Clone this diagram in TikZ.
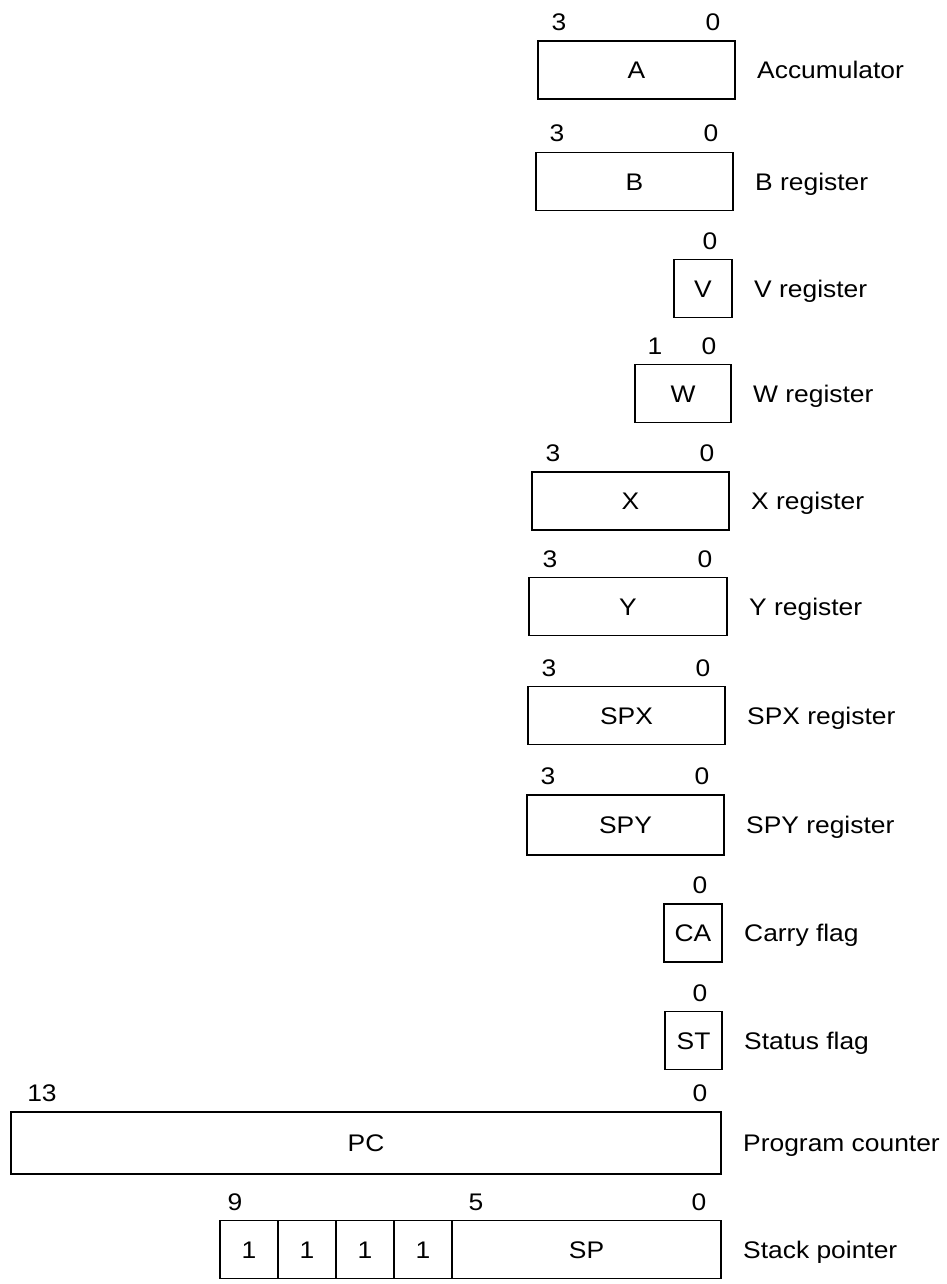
\documentclass[tikz,border=0pt]{standalone}
\usepackage{fontspec}
\setmainfont[FakeStretch=1.1]{Liberation Sans}
\usetikzlibrary{positioning,calc}

\begin{document}
\begin{tikzpicture}[x=1pt,y=-1pt,
    every node/.append style={font=\fontsize{24}{28}\selectfont,inner sep=0pt,text height=17pt,text depth=0pt},
    reg/.style={draw,line width=1.9pt,minimum height=58pt,outer sep=0pt},
    bitno/.style={},
    regname/.style={right=22pt of #1}]
  \useasboundingbox (0,0) rectangle (946,1284);

  \node[reg,minimum width=197pt] (A) at (636.5,70) {A};
  \node[bitno] (A-hi) at ([shift={(21,-19)}]A.north west) {3};
  \node[bitno] (A-lo) at ([shift={(-22,-19)}]A.north east) {0};
  \node[regname=A] (A-txt) {Accumulator};

  \node[reg,minimum width=197pt] (B) at (634.5,181.5) {B};
  \node[bitno] (B-hi) at ([shift={(21,-19)}]B.north west) {3};
  \node[bitno] (B-lo) at ([shift={(-22,-19)}]B.north east) {0};
  \node[regname=B] (B-txt) {B register};

  \node[reg,minimum width=58pt] (V) at (703,288.5) {V};
  \node[bitno] (V-lo) at ([shift={(-22,-19)}]V.north east) {0};
  \node[regname=V] (V-txt) {V register};

  \node[reg,minimum width=96pt] (W) at (683,393.5) {W};
  \node[bitno] (W-hi) at ([shift={(20,-19)}]W.north west) {1};
  \node[bitno] (W-lo) at ([shift={(-22,-19)}]W.north east) {0};
  \node[regname=W] (W-txt) {W register};

  \node[reg,minimum width=197pt] (X) at (630.5,501) {X};
  \node[bitno] (X-hi) at ([shift={(21,-19)}]X.north west) {3};
  \node[bitno] (X-lo) at ([shift={(-22,-19)}]X.north east) {0};
  \node[regname=X] (X-txt) {X register};

  \node[reg,minimum width=198pt] (Y) at (628,606.5) {Y};
  \node[bitno] (Y-hi) at ([shift={(21,-19)}]Y.north west) {3};
  \node[bitno] (Y-lo) at ([shift={(-22,-19)}]Y.north east) {0};
  \node[regname=Y] (Y-txt) {Y register};

  \node[reg,minimum width=197pt] (SPX) at (626.5,715.5) {SPX};
  \node[bitno] (SPX-hi) at ([shift={(21,-19)}]SPX.north west) {3};
  \node[bitno] (SPX-lo) at ([shift={(-22,-19)}]SPX.north east) {0};
  \node[regname=SPX] (SPX-txt) {SPX register};

  \node[reg,minimum width=197pt,minimum height=60pt] (SPY) at (625.5,825) {SPY};
  \node[bitno] (SPY-hi) at ([shift={(21,-19)}]SPY.north west) {3};
  \node[bitno] (SPY-lo) at ([shift={(-22,-19)}]SPY.north east) {0};
  \node[regname=SPY] (SPY-txt) {SPY register};

  \node[reg,minimum width=58pt] (CA) at (693,933) {CA};
  \node[bitno] (CA-lo) at ([shift={(-22,-19)}]CA.north east) {0};
  \node[regname=CA] (CA-txt) {Carry flag};

  \node[reg,minimum width=57pt] (ST) at (693.5,1040.5) {ST};
  \node[bitno] (ST-lo) at ([shift={(-22,-19)}]ST.north east) {0};
  \node[regname=ST] (ST-txt) {Status flag};

  \node[reg,minimum width=710pt,minimum height=62pt] (PC) at (366,1143) {PC};
  \node[bitno] (PC-hi) at ([shift={(31,-19)}]PC.north west) {13};
  \node[bitno] (PC-lo) at ([shift={(-21,-19)}]PC.north east) {0};
  \node[regname=PC] (PC-txt) {Program counter};

  \node[reg,minimum width=269pt] (SP) at (586.5,1249.5) {SP};
  \foreach \b/\prev in {6/SP,7/SP-6,8/SP-7,9/SP-8}
    \node[reg,minimum width=58pt,left=0pt of \prev] (SP-\b) {1};
  \node[bitno] (SP-hi) at ([shift={(15,-19)}]SP-9.north west) {9};
  \node[bitno] (SP-mid) at ([shift={(24,-19)}]SP.north west) {5};
  \node[bitno] (SP-lo) at ([shift={(-22,-19)}]SP.north east) {0};
  \node[regname=SP] (SP-txt) {Stack pointer};
\end{tikzpicture}
\end{document}
